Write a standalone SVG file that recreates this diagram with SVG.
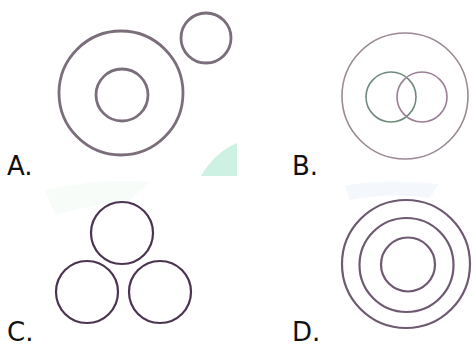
<svg xmlns="http://www.w3.org/2000/svg" width="472" height="347" viewBox="0 0 472 347">
<style>
.lbl{font-family:"DejaVu Sans",Verdana,sans-serif;font-size:26px;fill:#111}
.ca{fill:none;stroke:#7a6e7a;stroke-width:2.8}
.cb{fill:none;stroke-width:1.6}
.cc{fill:none;stroke:#4a3450;stroke-width:2.2}
.cd{fill:none;stroke:#6e5a70;stroke-width:2.2}
</style>
<rect width="472" height="347" fill="#fff"/>
<g id="watermarks">
<path d="M201,176 Q215,152 237,143 L237,176 Z" fill="#cdf1e2"/>
<path d="M345,186 Q380,178 438,184 L430,198 Q390,192 350,200 Z" fill="#f4f7fc"/>
<path d="M45,190 Q100,178 150,182 L130,200 Q90,205 55,215 Z" fill="#f7fcf9"/>
</g>
<g id="optA">
<circle class="ca" cx="121" cy="93" r="62"/>
<circle class="ca" cx="122" cy="95" r="26"/>
<circle class="ca" cx="206" cy="38" r="25"/>
<text class="lbl" x="7" y="175">A.</text>
</g>
<g id="optB">
<circle class="cb" cx="405" cy="96" r="63" stroke="#9a8a96"/>
<circle class="cb" cx="391" cy="97" r="25" stroke="#6f8a7c"/>
<circle class="cb" cx="422" cy="97" r="25" stroke="#9a7f95"/>
<text class="lbl" x="292" y="175">B.</text>
</g>
<g id="optC">
<circle class="cc" cx="122" cy="233" r="31"/>
<circle class="cc" cx="87" cy="292" r="31"/>
<circle class="cc" cx="160" cy="292" r="31"/>
<text class="lbl" x="7" y="341">C.</text>
</g>
<g id="optD">
<circle class="cd" cx="406" cy="264" r="64"/>
<circle class="cd" cx="406.5" cy="265" r="47"/>
<circle class="cd" cx="408" cy="264.5" r="27"/>
<text class="lbl" x="292" y="341">D.</text>
</g>
</svg>
